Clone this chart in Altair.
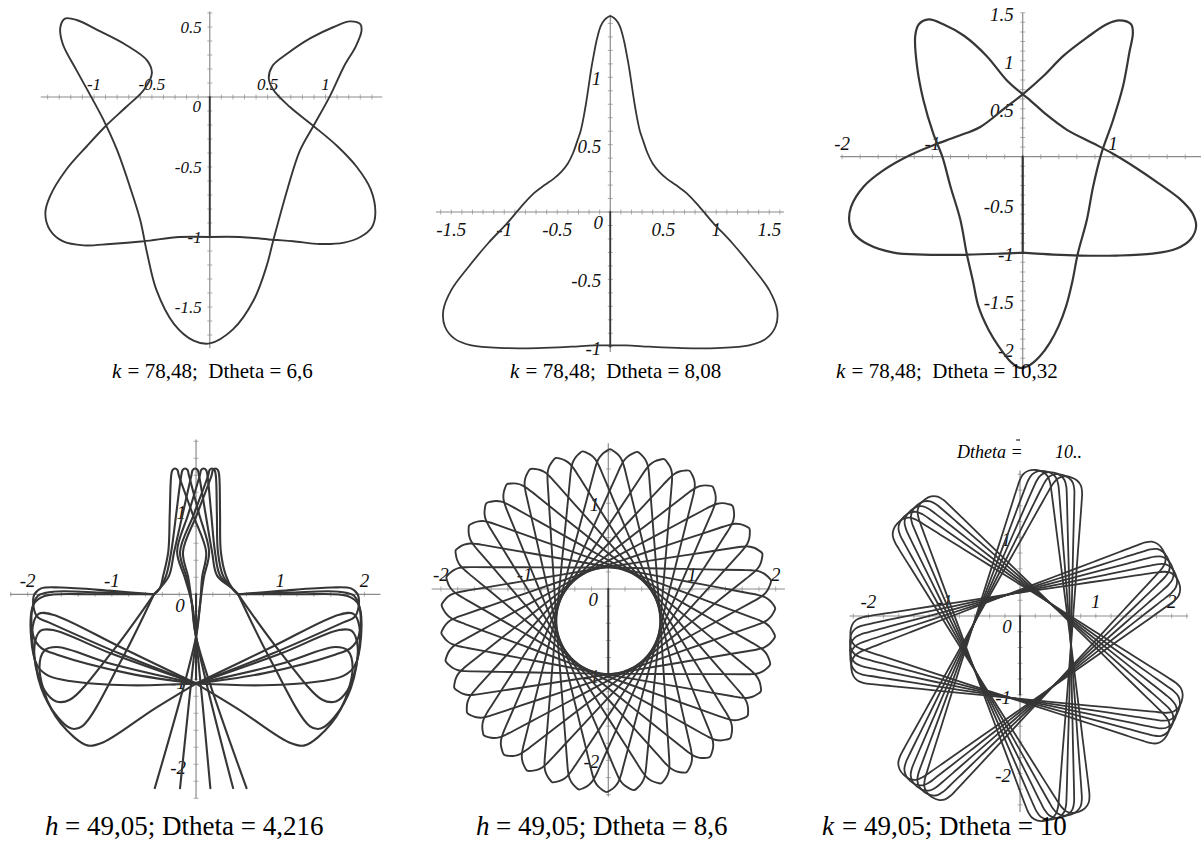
import altair as alt
import numpy as np
import pandas as pd

INK = "#363636"
AXIS = "#8c8c8c"
SERIF = "Liberation Serif, Times New Roman, serif"

# ---------------- trajectories (plot units) ----------------
STEM = [(0.0, 0.0), (0.0, -1.0)]

# k = 78,48 ; Dtheta = 6,6
P1_PATH = [(0, -1.00), (0.26, -1.00), (0.55, -1.02), (0.72, -1.03), (0.95, -1.05), (1.16, -1.04),
           (1.30, -1.00), (1.40, -0.93), (1.43, -0.83), (1.39, -0.66), (1.27, -0.50), (1.10, -0.35),
           (0.90, -0.21), (0.69, -0.07), (0.55, 0.05), (0.51, 0.13), (0.54, 0.22), (0.67, 0.31),
           (0.87, 0.42), (1.07, 0.50), (1.21, 0.54), (1.30, 0.52), (1.31, 0.47), (1.26, 0.36),
           (1.16, 0.22), (1.04, 0.01), (0.90, -0.20), (0.78, -0.38), (0.67, -0.66), (0.55, -1.02),
           (0.49, -1.21), (0.38, -1.45), (0.20, -1.66), (0, -1.76), (-0.14, -1.74), (-0.31, -1.62),
           (-0.46, -1.38), (-0.54, -1.12), (-0.60, -0.88), (-0.69, -0.64), (-0.80, -0.38),
           (-0.92, -0.16), (-1.03, 0.01), (-1.15, 0.19), (-1.27, 0.38), (-1.29, 0.50), (-1.25, 0.56),
           (-1.15, 0.55), (-0.95, 0.47), (-0.72, 0.37), (-0.54, 0.26), (-0.50, 0.17), (-0.57, 0.05),
           (-0.72, -0.07), (-0.89, -0.20), (-1.06, -0.35), (-1.24, -0.52), (-1.38, -0.71),
           (-1.42, -0.83), (-1.38, -0.95), (-1.27, -1.03), (-1.09, -1.06), (-0.86, -1.05),
           (-0.57, -1.03), (-0.26, -1.00), (0, -1.00)]

# k = 78,48 ; Dtheta = 8,08  (right half, the left half is its mirror image)
P2_HALF = [(0, 1.455), (0.05, 1.43), (0.09, 1.38), (0.13, 1.27), (0.155, 1.17), (0.18, 1.06),
           (0.20, 0.955), (0.23, 0.80), (0.25, 0.71), (0.28, 0.60), (0.31, 0.53), (0.35, 0.44),
           (0.40, 0.36), (0.46, 0.30), (0.53, 0.25), (0.62, 0.20), (0.72, 0.14), (0.84, 0.04),
           (0.97, -0.08), (1.15, -0.23), (1.34, -0.41), (1.50, -0.58), (1.575, -0.73), (1.56, -0.85),
           (1.47, -0.94), (1.31, -0.99), (1.00, -1.01), (0.68, -1.01), (0.37, -1.00), (0.15, -0.99),
           (0, -0.99)]

# k = 78,48 ; Dtheta = 10,32
P3_PATH = [(0, -1.0), (0.34, -1.02), (0.63, -1.03), (1.04, -1.03), (1.44, -1.01), (1.70, -0.96),
           (1.86, -0.86), (1.92, -0.73), (1.88, -0.59), (1.74, -0.44), (1.51, -0.28), (1.26, -0.12),
           (1.00, 0.03), (0.78, 0.14), (0.49, 0.28), (0.26, 0.44), (0.08, 0.59), (0, 0.65),
           (-0.18, 0.80), (-0.40, 1.05), (-0.65, 1.26), (-0.88, 1.38), (-1.04, 1.43), (-1.15, 1.38),
           (-1.19, 1.26), (-1.17, 0.94), (-1.10, 0.59), (-0.99, 0.24), (-0.89, 0.0), (-0.80, -0.31),
           (-0.69, -0.66), (-0.62, -1.01), (-0.55, -1.30), (-0.49, -1.56), (-0.38, -1.80),
           (-0.27, -1.97), (-0.13, -2.14), (-0.03, -2.20), (0.08, -2.17), (0.19, -2.08), (0.30, -1.94),
           (0.40, -1.76), (0.48, -1.56), (0.55, -1.30), (0.61, -1.01), (0.71, -0.66), (0.78, -0.31),
           (0.87, 0.03), (1.00, 0.38), (1.11, 0.73), (1.18, 1.08), (1.22, 1.29), (1.20, 1.38),
           (1.07, 1.42), (0.93, 1.38), (0.71, 1.24), (0.45, 1.05), (0.23, 0.84), (0, 0.65),
           (-0.18, 0.52), (-0.47, 0.31), (-0.73, 0.21), (-0.99, 0.12), (-1.24, 0.02), (-1.54, -0.14),
           (-1.76, -0.31), (-1.90, -0.52), (-1.92, -0.68), (-1.87, -0.80), (-1.72, -0.91),
           (-1.43, -1.00), (-1.10, -1.02), (-0.62, -1.02), (-0.25, -1.01), (0, -1.0)]

# h = 49,05 ; Dtheta = 4,216
P4_HAIRPIN_X = [-0.25, -0.13, -0.01, 0.09, 0.19, 0.23]       # tops of the narrow loops
P4_NECK_LEFT = [-0.33, -0.295, -0.26, -0.225, -0.19, -0.155]  # left side at y = 0.5
P4_NECK_RIGHT = [0.12, 0.155, 0.19, 0.225, 0.26, 0.295]       # right side at y = 0.5
P4_LEFT_LEG = [None, None, None, 0.17, 0.44, 0.60]           # leg end x (None: side ends at knot)
P4_RIGHT_LEG = [-0.19, -0.49, None, None, None, None]
P4_LOBES_LEFT = [
    [(-0.50, 0.00), (-1.0, 0.04), (-1.6, 0.08), (-1.84, 0.07), (-1.92, 0.00), (-1.93, -0.15),
     (-1.88, -0.27), (-1.75, -0.33), (-0.9, -0.70), (0.0, -1.05)],
    [(-0.50, 0.00), (-1.1, 0.02), (-1.7, 0.03), (-1.88, -0.02), (-1.95, -0.20), (-1.93, -0.50),
     (-1.84, -0.63), (-1.65, -0.71), (-0.8, -0.93), (0.0, -1.05)],
    [(-0.50, 0.00), (-1.2, 0.00), (-1.8, -0.02), (-1.93, -0.12), (-1.96, -0.50), (-1.88, -0.85),
     (-1.75, -0.96), (-1.5, -1.02), (-0.8, -1.07), (0.0, -1.05)],
    [(0.0, -1.05), (-0.9, -0.62), (-1.7, -0.24), (-1.87, -0.23), (-1.94, -0.38), (-1.90, -0.85),
     (-1.80, -1.13), (-1.66, -1.26), (-1.5, -1.24), (-1.0, -0.68), (-0.50, 0.00)],
    [(0.0, -1.05), (-1.0, -0.70), (-1.7, -0.42), (-1.85, -0.43), (-1.92, -0.62), (-1.84, -1.10),
     (-1.64, -1.45), (-1.48, -1.58), (-1.35, -1.55), (-0.9, -0.80), (-0.50, 0.00)],
    [(0.0, -1.05), (-1.0, -0.82), (-1.65, -0.62), (-1.80, -0.66), (-1.86, -0.86), (-1.72, -1.35),
     (-1.45, -1.68), (-1.28, -1.78), (-1.10, -1.74), (-0.5, -1.35), (0.0, -1.05)],
]

# h = 49,05 ; Dtheta = 8,6 : one petal (tip on the +x direction) and the petal directions
P5_CENTER = (0.0, -0.37)
P5_PETAL = [(0.157, -0.600), (0.6, -0.484), (1.0, -0.380), (1.4, -0.275), (1.7, -0.197),
            (1.80, -0.17), (1.88, -0.14), (1.935, -0.10), (1.975, -0.05), (2.0, 0.0),
            (1.975, 0.05), (1.935, 0.10), (1.88, 0.14), (1.80, 0.17), (1.7, 0.197), (1.4, 0.275),
            (1.0, 0.380), (0.6, 0.484), (0.157, 0.600)]
P5_TIP_ANGLES = [89.4, 98.9, 108.3, 117.8, 127.3, 136.8, 146.2, 155.7, 165.2, 174.7, 184.1, 193.6,
                 203.1, 212.6, 222.0, 231.5, 241.0, 250.5, 259.9, 269.4, 278.9, 288.4, 297.8, 307.3,
                 316.8, 326.3, 335.7, 345.2, 354.7, 4.2, 13.6, 23.1, 32.6, 42.1, 51.5, 61.0, 70.5, 79.9]

# k = 49,05 ; Dtheta = 10 : one lobe, seven lobe directions, five successive passes
P6_CENTER = (0.0, -0.38)
P6_LOBE = [(0.151, -0.653), (0.6, -0.549), (1.0, -0.457), (1.4, -0.364), (1.75, -0.284),
           (2.0, -0.226), (2.1, -0.20), (2.18, -0.16), (2.23, -0.09), (2.245, 0.0), (2.23, 0.09),
           (2.18, 0.16), (2.1, 0.20), (2.0, 0.226), (1.75, 0.284), (1.4, 0.364), (1.0, 0.457),
           (0.6, 0.549), (0.151, 0.653)]
P6_LOBE_ANGLES = [78.6, 130.0, 181.5, 232.9, 284.3, 335.7, 27.1]
P6_PASS_SHIFT = [-6, -3, 0, 3, 6]


def rotated(pts, ang, center):
    a = np.radians(ang)
    c, s = np.cos(a), np.sin(a)
    return [(center[0] + c * x - s * y, center[1] + s * x + c * y) for x, y in pts]


def neck_side(xj, base, sgn, leg):
    top = xj + sgn * 0.045
    pts = [(xj, 1.48), (xj + sgn * 0.03, 1.46), (top, 1.40), (0.5 * (top + base), 0.95), (base, 0.50)]
    if leg is None:
        pts += [(base + sgn * 0.06, 0.22), (sgn * 0.43, 0.07), (sgn * 0.50, 0.0)]
    else:
        pts += [(0.6 * base, 0.20), (sgn * 0.05, -0.10), (0.0, -0.50), (leg, -2.28)]
    return pts


def mirror(pts):
    return [(-x, y) for x, y in pts]


P1_SEGS = [STEM, P1_PATH]
P2_SEGS = [STEM, mirror(P2_HALF[::-1]) + P2_HALF[1:]]
P3_SEGS = [STEM, P3_PATH]
P4_SEGS = [STEM]
for xj, lb, rb, ll, rl in zip(P4_HAIRPIN_X, P4_NECK_LEFT, P4_NECK_RIGHT, P4_LEFT_LEG, P4_RIGHT_LEG):
    P4_SEGS.append(neck_side(xj, lb, -1, ll)[::-1] + neck_side(xj, rb, 1, rl)[1:])
for lobe in P4_LOBES_LEFT:
    P4_SEGS.append(lobe)
    P4_SEGS.append(mirror(lobe))
P5_SEGS = [STEM] + [rotated(P5_PETAL, a, P5_CENTER) for a in P5_TIP_ANGLES]
P6_SEGS = [STEM] + [rotated(P6_LOBE, a + d, P6_CENTER) for d in P6_PASS_SHIFT for a in P6_LOBE_ANGLES]


def seg_frame(segs):
    rows = []
    for k, seg in enumerate(segs):
        for i, (x, y) in enumerate(seg):
            rows.append({"seg": k, "i": i, "x": x, "y": y})
    return pd.DataFrame(rows)


def steps(a, b, h):
    n = int(round((b - a) / h))
    return [round(a + h * k, 3) for k in range(n + 1)]


PANELS = [
    dict(segs=P1_SEGS, xdom=[-1.46, 1.49], ydom=[-1.795, 0.61], xr=[40.7, 382.3], yr=[348.3, 11.6],
         xt=steps(-1.4, 1.4, 0.1), yt=steps(-1.7, 0.6, 0.1),
         xl=[(-1, "-1"), (-0.5, "-0.5"), (0.5, "0.5"), (1, "1")], xdy=-12,
         yl=[(0.5, "0.5"), (-0.5, "-0.5"), (-1, "-1"), (-1.5, "-1.5")], ydx=-8, ydy=1,
         zero=(-13, 10), fs=17, sw=1.9),
    dict(segs=P2_SEGS, xdom=[-1.645, 1.64], ydom=[-1.04, 1.465], xr=[435.9, 784.1], yr=[352.1, 14.7],
         xt=steps(-1.6, 1.6, 0.1), yt=steps(-1.0, 1.4, 0.1),
         xl=[(-1.5, "-1.5"), (-1, "-1"), (-0.5, "-0.5"), (0.5, "0.5"), (1, "1"), (1.5, "1.5")], xdy=18,
         yl=[(1, "1"), (0.5, "0.5"), (-0.5, "-0.5"), (-1, "-1")], ydx=-9, ydy=2,
         zero=(-12, 11), fs=19, sw=1.8),
    dict(segs=P3_SEGS, xdom=[-2.02, 1.98], ydom=[-2.22, 1.5], xr=[840.3, 1201.5], yr=[369.8, 12.7],
         xt=steps(-2.0, 1.8, 0.2), yt=steps(-2.2, 1.5, 0.1),
         xl=[(-2, "-2"), (-1, "-1"), (1, "1")], xdy=-13,
         yl=[(1.5, "1.5"), (1, "1"), (0.5, "0.5"), (-0.5, "-0.5"), (-1, "-1"), (-1.5, "-1.5"), (-2, "-2")],
         ydx=-9, ydy=2, zero=None, fs=19, sw=2.2),
    dict(segs=P4_SEGS, xdom=[-2.21, 2.19], ydom=[-2.40, 1.82], xr=[10.0, 380.4], yr=[798.3, 439.6],
         xt=steps(-2.2, 2.0, 0.2), yt=steps(-2.4, 1.8, 0.2),
         xl=[(-2, "-2"), (-1, "-1"), (1, "1"), (2, "2")], xdy=-13,
         yl=[(1, "1"), (-1, "-1"), (-2, "-2")], ydx=-10, ydy=4,
         zero=(-16, 12), fs=19, sw=2.1),
    dict(segs=P5_SEGS, xdom=[-2.11, 2.11], ydom=[-2.42, 1.70], xr=[431.7, 784.9], yr=[796.4, 443.3],
         xt=steps(-2.0, 2.0, 0.2), yt=steps(-2.4, 1.6, 0.2),
         xl=[(-2, "-2"), (-1, "-1"), (1, "1"), (2, "2")], xdy=-14,
         yl=[(1, "1"), (-1, "-1"), (-2, "-2")], ydx=-9, ydy=2,
         zero=(-15, 11), fs=19, sw=1.9),
    dict(segs=P6_SEGS, xdom=[-2.25, 2.22], ydom=[-2.49, 1.85], xr=[849.5, 1188.3], yr=[812.0, 470.4],
         xt=steps(-2.2, 2.2, 0.2), yt=steps(-2.4, 1.8, 0.2),
         xl=[(-2, "-2"), (-1, "-1"), (1, "1"), (2, "2")], xdy=-14,
         yl=[(1, "1"), (-1, "-1"), (-2, "-2")], ydx=-9, ydy=3,
         zero=(-13, 11), fs=19, sw=1.8),
]


def panel_layers(p):
    xs = alt.Scale(domain=p["xdom"], range=p["xr"], nice=False, zero=False)
    ys = alt.Scale(domain=p["ydom"], range=p["yr"], nice=False, zero=False)

    def X(f):
        return alt.X(f, type="quantitative", scale=xs, axis=None)

    def Y(f):
        return alt.Y(f, type="quantitative", scale=ys, axis=None)

    layers = []
    axes = pd.DataFrame({"x": [p["xdom"][0], 0], "y": [0, p["ydom"][0]],
                         "x2": [p["xdom"][1], 0], "y2": [0, p["ydom"][1]]})
    layers.append(alt.Chart(axes).mark_rule(color=AXIS, strokeWidth=1.2)
                  .encode(x=X("x"), y=Y("y"), x2="x2", y2="y2"))
    xt = pd.DataFrame({"v": p["xt"], "z": 0.0})
    layers.append(alt.Chart(xt).mark_tick(orient="vertical", size=5, thickness=1, color=AXIS)
                  .encode(x=X("v"), y=Y("z")))
    yt = pd.DataFrame({"v": p["yt"], "z": 0.0})
    layers.append(alt.Chart(yt).mark_tick(orient="horizontal", size=5, thickness=1, color=AXIS)
                  .encode(x=X("z"), y=Y("v")))
    xl = pd.DataFrame({"v": [a for a, _ in p["xl"]], "t": [b for _, b in p["xl"]], "z": 0.0})
    layers.append(alt.Chart(xl).mark_text(font=SERIF, fontStyle="italic", fontSize=p["fs"],
                                          dy=p["xdy"], baseline="middle", color="#111111")
                  .encode(x=X("v"), y=Y("z"), text="t:N"))
    yl = pd.DataFrame({"v": [a for a, _ in p["yl"]], "t": [b for _, b in p["yl"]], "z": 0.0})
    layers.append(alt.Chart(yl).mark_text(font=SERIF, fontStyle="italic", fontSize=p["fs"],
                                          align="right", baseline="middle", dx=p["ydx"], dy=p["ydy"],
                                          color="#111111")
                  .encode(x=X("z"), y=Y("v"), text="t:N"))
    if p["zero"] is not None:
        zl = pd.DataFrame({"v": [0.0], "t": ["0"]})
        layers.append(alt.Chart(zl).mark_text(font=SERIF, fontStyle="italic", fontSize=p["fs"],
                                              baseline="middle", dx=p["zero"][0], dy=p["zero"][1],
                                              color="#111111")
                      .encode(x=X("v"), y=Y("v"), text="t:N"))
    layers.append(alt.Chart(seg_frame(p["segs"]))
                  .mark_line(color=INK, strokeWidth=p["sw"], interpolate="catmull-rom",
                             strokeJoin="round", strokeCap="round")
                  .encode(x=X("x"), y=Y("y"), detail="seg:N", order="i:Q"))
    return layers


one = pd.DataFrame({"a": [0]})


def text_at(s, x, y, size, style="normal", align="left"):
    return (alt.Chart(one)
            .mark_text(font=SERIF, fontSize=size, fontStyle=style, align=align, baseline="middle",
                       color="#000000")
            .encode(x=alt.value(x), y=alt.value(y), text=alt.value(s)))


# caption pieces: (italic letter, parameter part, Dtheta part, left x, centre y, font size)
CAPTIONS = [
    ("k", "= 78,48;", "Dtheta = 6,6", 112, 372, 21),
    ("k", "= 78,48;", "Dtheta = 8,08", 510, 372, 21),
    ("k", "= 78,48;", "Dtheta = 10,32", 836, 372, 21),
    ("h", "= 49,05;", "Dtheta = 4,216", 45, 827, 27),
    ("h", "= 49,05;", "Dtheta = 8,6", 476, 827, 27),
    ("k", "= 49,05;", "Dtheta = 10", 822, 827, 27),
]

layers = []
for p in PANELS:
    layers += panel_layers(p)
for letter, par, dth, x0, y0, size in CAPTIONS:
    gap = 0.5 if size < 24 else 0.25          # two spaces in the top row, one in the bottom row
    layers.append(text_at(letter, x0, y0, size, style="italic"))
    layers.append(text_at(par, x0 + 0.74 * size, y0, size))
    layers.append(text_at(dth, x0 + (0.74 + 3.342 + gap) * size, y0, size))
layers.append(text_at("Dtheta =", 957, 453, 18, style="italic"))
layers.append(text_at("10..", 1055, 453, 18, style="italic"))
layers.append(alt.Chart(one).mark_rule(color="#222222", strokeWidth=1.2)
              .encode(x=alt.value(1016), x2=alt.value(1020), y=alt.value(440)))

chart = (alt.layer(*layers)
         .resolve_scale(x="independent", y="independent")
         .properties(width=1201, height=845, autosize=alt.AutoSizeParams(type="none"),
                     padding=0, background="white")
         .configure_view(stroke=None))

chart.save("out.html", embed_options={"renderer": "svg", "actions": False})
